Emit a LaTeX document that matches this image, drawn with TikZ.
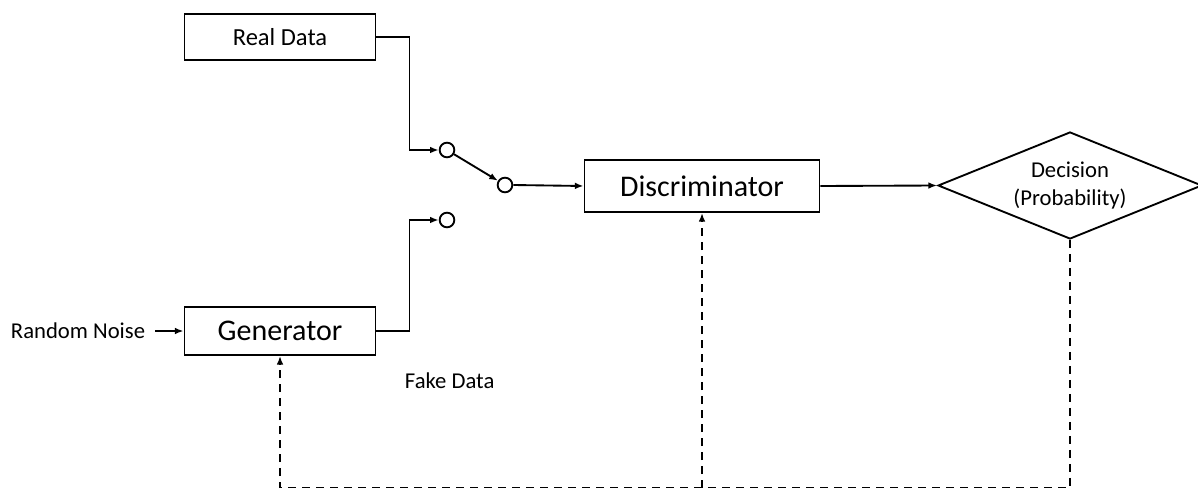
\documentclass[tikz,border=0pt]{standalone}
\usepackage{fontspec}
\setmainfont{Carlito}
\usetikzlibrary{shapes.geometric,arrows.meta}
\begin{document}
\begin{tikzpicture}[x=0.75pt,y=-0.75pt,line width=1.4pt,
  >={Latex[length=6.5pt,width=5pt]}]
  \tikzstyle{blk}=[draw, rectangle, inner sep=0pt, fill=white]
  \tikzstyle{sw}=[draw, circle, minimum size=11pt, inner sep=0pt]
  \tikzstyle{lbl}=[font=\fontsize{17}{20}\selectfont, inner sep=0pt]
  \tikzstyle{fb}=[dashed, dash pattern=on 6pt off 4.5pt]
  \useasboundingbox (0,0) rectangle (1198,488);
  % boxes
  \node[blk, minimum width=143.25pt, minimum height=34.5pt,
    font=\fontsize{18.4}{22}\selectfont] (real) at (280,37) {Real Data};
  \node[blk, minimum width=143.25pt, minimum height=36pt,
    font=\fontsize{22.5}{26}\selectfont] (gen) at (280,331) {Generator};
  \node[blk, minimum width=176.25pt, minimum height=39pt,
    font=\fontsize{22.5}{26}\selectfont] (disc) at (702,186) {Discriminator};
  \node[draw, diamond, aspect=2.4, inner sep=0pt,
    minimum width=198pt, minimum height=80.25pt, align=center,
    font=\fontsize{17}{21}\selectfont] (dec) at (1070,185.5)
    {Decision\\(Probability)};
  % switch
  \node[sw] (s1) at (447,150) {};
  \node[sw] (s2) at (505,185) {};
  \node[sw] (s3) at (447,220) {};
  % labels
  \node[lbl, anchor=east] (noise) at (146,331) {Random Noise};
  \node[lbl, anchor=west] (fake) at (404,381) {Fake Data};
  % connectors
  \draw[->] (real.east) -- ++(33,0) |- (s1.west);
  \draw[->] (s1) -- (s2);
  \draw[->] (s2.east) -- (disc.west);
  \draw[->] (gen.east) -- ++(33,0) |- (s3.west);
  \draw[->] (noise.east) ++(9,0) -- (gen.west);
  \draw[->] (disc.east) -- (dec.west);
  % feedback
  \coordinate (bot) at (dec.south |- 0,488);
  \draw[fb,->] (dec.south) -- (bot) -| (gen.south);
  \draw[fb,->] (disc.south |- bot) -- (disc.south);
\end{tikzpicture}
\end{document}
